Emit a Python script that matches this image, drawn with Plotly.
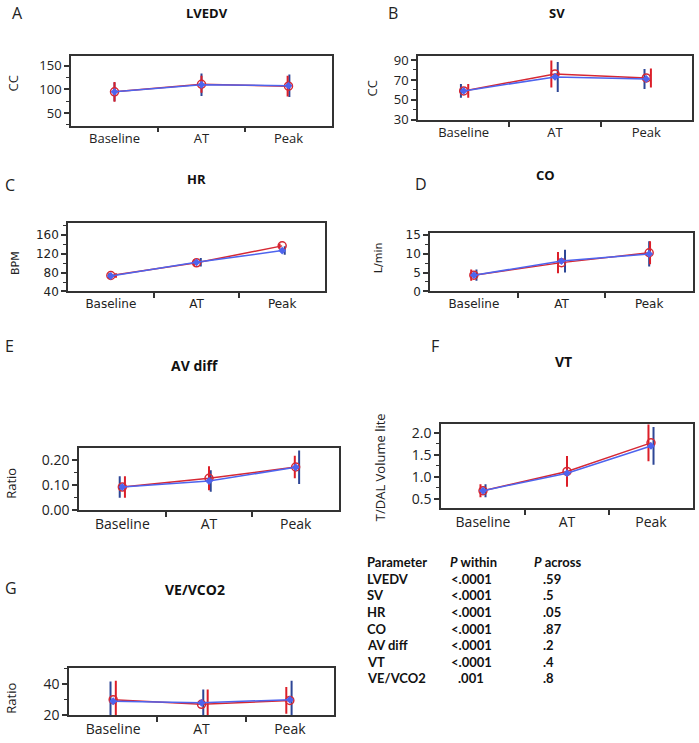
import plotly.graph_objects as go

W, H = 699, 743

categories = ["Baseline", "AT", "Peak"]

# ---- data (group 1 = red, group 2 = blue) ----
lvedv_red = [95, 111, 107]
lvedv_red_err = [21, 18, 22]
lvedv_blue = [95, 110, 108]
lvedv_blue_err = [20, 24, 24]

sv_red = [59, 76, 72]
sv_red_err = [7, 13.5, 9.5]
sv_blue = [59, 73, 71]
sv_blue_err = [7, 15, 10]

hr_red = [74, 101, 137]
hr_red_err = [5, 7, 5]
hr_blue = [73, 102, 127]
hr_blue_err = [6, 9, 9]

co_red = [4.3, 7.6, 10.2]
co_red_err = [1.5, 2.8, 3.0]
co_blue = [4.3, 8.0, 9.9]
co_blue_err = [1.5, 3.0, 3.3]

avd_red = [0.093, 0.128, 0.173]
avd_red_err = [0.043, 0.048, 0.045]
avd_blue = [0.093, 0.117, 0.172]
avd_blue_err = [0.043, 0.043, 0.067]

vt_red = [0.68, 1.12, 1.77]
vt_red_err = [0.15, 0.35, 0.42]
vt_blue = [0.68, 1.08, 1.70]
vt_blue_err = [0.15, 0.25, 0.43]

ve_red = [30, 27, 29.5]
ve_red_err = [12, 9.5, 8.5]
ve_blue = [29, 28, 30]
ve_blue_err = [12.5, 8.5, 12]

# table
tbl_params = ["LVEDV", "SV", "HR", "CO", "AV diff", "VT", "VE/VCO2"]
tbl_within = ["<.0001", "<.0001", "<.0001", "<.0001", "<.0001", "<.0001", ".001"]
tbl_across = [".59", ".5", ".05", ".87", ".2", ".4", ".8"]

# ---- layout / style ----
RED = "rgb(214,40,52)"
RED_BAR = "rgb(220,30,40)"
BLUE = "rgb(78,100,238)"
BLUE_BAR = "rgb(45,70,150)"
AX = "#333333"

panels = [
    dict(letter="A", title="LVEDV", ytitle="CC", red=lvedv_red, rerr=lvedv_red_err,
         blue=lvedv_blue, berr=lvedv_blue_err, box=(71, 332, 52, 123),
         yr=[23, 171], ytv=[50, 100, 150], ytt=["50", "100", "150"], ymd=25,
         roff=[0, 0, -0.01], boff=[0, 0.0, 0.01],
         letter_xy=(10, 8), title_xy=(207, 8), ytitle_xy=(13, 80), font="Open Sans", fs=13),
    dict(letter="B", title="SV", ytitle="CC", red=sv_red, rerr=sv_red_err,
         blue=sv_blue, berr=sv_blue_err, box=(418, 692, 52, 117),
         yr=[30, 94], ytv=[30, 50, 70, 90], ytt=["30", "50", "70", "90"], ymd=10,
         roff=[0.05, -0.04, 0.05], boff=[-0.03, 0.03, -0.02],
         letter_xy=(386, 8), title_xy=(557, 8), ytitle_xy=(372, 85), font="Open Sans", fs=13),
    dict(letter="C", title="HR", ytitle="BPM", red=hr_red, rerr=hr_red_err,
         blue=hr_blue, berr=hr_blue_err, box=(68, 325, 222, 292),
         yr=[40, 186], ytv=[40, 80, 120, 160], ytt=["40", "80", "120", "160"], ymd=20,
         roff=[0.06, -0.03, -0.03], boff=[-0.02, 0.05, 0.03],
         letter_xy=(3, 183), title_xy=(196, 177), ytitle_xy=(15, 263), font="DejaVu Sans", fs=12),
    dict(letter="D", title="CO", ytitle="L/min", red=co_red, rerr=co_red_err,
         blue=co_blue, berr=co_blue_err, box=(430, 693, 232, 292),
         yr=[0, 15.5], ytv=[0, 5, 10, 15], ytt=["0", "5", "10", "15"], ymd=2.5,
         roff=[-0.03, -0.04, 0.01], boff=[0.03, 0.04, 0.0],
         letter_xy=(413, 182), title_xy=(545, 173), ytitle_xy=(378, 258), font="DejaVu Sans", fs=12),
    dict(letter="E", title="AV diff", ytitle="Ratio", red=avd_red, rerr=avd_red_err,
         blue=avd_blue, berr=avd_blue_err, box=(79, 339, 452, 515),
         yr=[0, 0.247], ytv=[0, 0.1, 0.2], ytt=["0.00", "0.10", "0.20"], ymd=0.05,
         roff=[0.03, 0.0, -0.01], boff=[-0.03, 0.02, 0.04],
         letter_xy=(3, 348), title_xy=(195, 367), ytitle_xy=(11, 488), font="Open Sans", fs=14),
    dict(letter="F", title="VT", ytitle="T/DAL Volume lite", red=vt_red, rerr=vt_red_err,
         blue=vt_blue, berr=vt_blue_err, box=(441, 693, 427, 513),
         yr=[0.28, 2.2], ytv=[0.5, 1.0, 1.5, 2.0], ytt=["0.5", "1.0", "1.5", "2.0"], ymd=0.25,
         roff=[-0.03, 0.0, -0.03], boff=[0.03, 0.0, 0.03],
         letter_xy=(429, 348), title_xy=(563, 363), ytitle_xy=(380, 471), font="Open Sans", fs=14),
    dict(letter="G", title="VE/VCO2", ytitle="Ratio", red=ve_red, rerr=ve_red_err,
         blue=ve_blue, berr=ve_blue_err, box=(69, 334, 676, 724),
         yr=[20, 50], ytv=[20, 40], ytt=["20", "40"], ymd=10,
         roff=[0.03, 0.07, -0.04], boff=[-0.03, 0.02, 0.02],
         letter_xy=(3, 594), title_xy=(195, 596), ytitle_xy=(11, 707), font="Open Sans", fs=14),
]

fig = go.Figure()
annotations = []
xs = list(range(len(categories)))


def px(x):
    return x / W


def py(y):
    return 1 - y / H


for i, p in enumerate(panels, start=1):
    xa = "x" if i == 1 else f"x{i}"
    ya = "y" if i == 1 else f"y{i}"
    l, r, t, b = p["box"]

    # error bars (offset a little from category centre)
    for vals, errs, offs, col in ((p["blue"], p["berr"], p["boff"], BLUE_BAR),
                                  (p["red"], p["rerr"], p["roff"], RED_BAR)):
        fig.add_trace(go.Scatter(
            x=[xv + o for xv, o in zip(xs, offs)], y=vals, mode="markers",
            marker=dict(size=1, color="rgba(0,0,0,0)"),
            error_y=dict(type="data", array=errs, visible=True, color=col,
                         thickness=2, width=0),
            xaxis=xa, yaxis=ya, showlegend=False, hoverinfo="skip"))

    # lines + markers
    fig.add_trace(go.Scatter(
        x=xs, y=p["red"], mode="lines+markers",
        line=dict(color=RED, width=1.5),
        marker=dict(symbol="circle-open", size=8, color=RED, line=dict(width=1.5)),
        xaxis=xa, yaxis=ya, showlegend=False))
    fig.add_trace(go.Scatter(
        x=xs, y=p["blue"], mode="lines+markers",
        line=dict(color=BLUE, width=1.5),
        marker=dict(symbol="diamond", size=6, color=BLUE),
        xaxis=xa, yaxis=ya, showlegend=False))

    tickfont = dict(family=p["font"], size=p["fs"], color="#222222")
    fig.layout[("xaxis" if i == 1 else f"xaxis{i}")] = dict(
        domain=[px(l), px(r)], anchor=ya, range=[-0.5, 2.5],
        tickvals=xs, ticktext=categories, ticks="", tickfont=tickfont,
        showline=True, linecolor=AX, linewidth=1.5, mirror=True,
        showgrid=False, zeroline=False, fixedrange=True,
        minor=dict(tickvals=[0.5, 1.5], ticks="outside", ticklen=5,
                   tickcolor=AX, tickwidth=1.5, showgrid=False))
    fig.layout[("yaxis" if i == 1 else f"yaxis{i}")] = dict(
        domain=[py(b), py(t)], anchor=xa, range=p["yr"],
        tickvals=p["ytv"], ticktext=p["ytt"], ticks="outside", ticklen=5,
        tickcolor=AX, tickwidth=1.5, tickfont=tickfont,
        showline=True, linecolor=AX, linewidth=1.5, mirror=True,
        showgrid=False, zeroline=False, fixedrange=True,
        minor=dict(dtick=p["ymd"], ticks="outside", ticklen=3,
                   tickcolor=AX, tickwidth=1, showgrid=False))

    lx, ly = p["letter_xy"]
    annotations.append(dict(text=p["letter"], x=px(lx), y=py(ly), xref="paper", yref="paper",
                            xanchor="left", yanchor="middle", showarrow=False,
                            font=dict(family="Open Sans", size=16, color="#222222")))
    tx, ty = p["title_xy"]
    annotations.append(dict(text=f"<b>{p['title']}</b>", x=px(tx), y=py(ty), xref="paper",
                            yref="paper", xanchor="center", yanchor="middle", showarrow=False,
                            font=dict(family="Open Sans", size=14 if i in (5, 6, 7) else 13,
                                      color="#111111")))
    yx, yy = p["ytitle_xy"]
    annotations.append(dict(text=p["ytitle"], x=px(yx), y=py(yy), xref="paper", yref="paper",
                            xanchor="center", yanchor="middle", showarrow=False, textangle=-90,
                            font=dict(family=p["font"], size=13 if p["font"] == "Open Sans" else 11,
                                      color="#222222")))

# table
tfont = dict(family="Lato", size=13, color="#111111")
row0 = 568
dy = 16.9
annotations.append(dict(text="<b>Parameter</b>", x=px(365), y=py(row0), xref="paper", yref="paper",
                        xanchor="left", yanchor="middle", showarrow=False, font=tfont))
annotations.append(dict(text="<b><i>P</i> within</b>", x=px(448), y=py(row0), xref="paper",
                        yref="paper", xanchor="left", yanchor="middle", showarrow=False, font=tfont))
annotations.append(dict(text="<b><i>P</i> across</b>", x=px(532), y=py(row0), xref="paper",
                        yref="paper", xanchor="left", yanchor="middle", showarrow=False, font=tfont))
for k, (pa, pw, pc) in enumerate(zip(tbl_params, tbl_within, tbl_across), start=1):
    yk = py(row0 + k * dy)
    annotations.append(dict(text=f"<b>{pa}</b>", x=px(365), y=yk, xref="paper", yref="paper",
                            xanchor="left", yanchor="middle", showarrow=False, font=tfont))
    annotations.append(dict(text=f"<b>{pw}</b>", x=px(471), y=yk, xref="paper", yref="paper",
                            xanchor="center", yanchor="middle", showarrow=False, font=tfont))
    annotations.append(dict(text=f"<b>{pc}</b>", x=px(541), y=yk, xref="paper", yref="paper",
                            xanchor="left", yanchor="middle", showarrow=False, font=tfont))

fig.update_layout(width=W, height=H, margin=dict(l=0, r=0, t=0, b=0),
                  paper_bgcolor="white", plot_bgcolor="white",
                  annotations=annotations, showlegend=False)

fig.write_html("out.html", config={"displayModeBar": False},
               post_script="document.body.style.margin='0';document.body.style.overflow='hidden';")
